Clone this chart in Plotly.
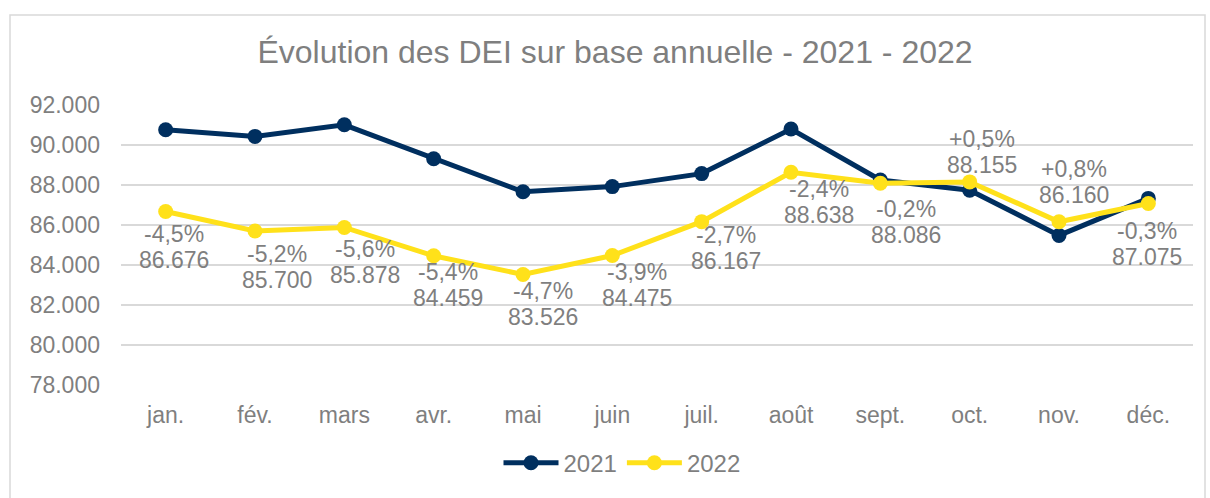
import plotly.graph_objects as go

months = ["jan.", "fév.", "mars", "avr.", "mai", "juin", "juil.", "août", "sept.", "oct.", "nov.", "déc."]
v2021 = [90760, 90430, 91010, 89310, 87660, 87920, 88570, 90800, 88250, 87740, 85480, 87330]
v2022 = [86676, 85700, 85878, 84459, 83526, 84475, 86167, 88638, 88086, 88155, 86160, 87075]
pct2022 = ["-4,5%", "-5,2%", "-5,6%", "-5,4%", "-4,7%", "-3,9%", "-2,7%", "-2,4%", "-0,2%", "+0,5%", "+0,8%", "-0,3%"]

# label placement offsets (px): dx, dy of first line below point (negative = above)
label_dx = [8, 22, 21, 14, 20, 25, 24, 28, 26, 12, 15, -1]
label_dy = [23, 23, 22, 16, 17, 16, 13, 17, 26, -43, -53, 27]
line_gap = 26

NAVY = "#002F5F"
YELLOW = "#FFE11A"
GRAY = "#7F7F7F"
FONT = "Liberation Sans, Arial, sans-serif"

fig = go.Figure()
fig.add_trace(go.Scatter(x=months, y=v2021, name="2021", mode="lines+markers",
                         line=dict(color=NAVY, width=5), marker=dict(size=15, color=NAVY)))
fig.add_trace(go.Scatter(x=months, y=v2022, name="2022", mode="lines+markers",
                         line=dict(color=YELLOW, width=5), marker=dict(size=15, color=YELLOW)))

def fmt(v):
    return f"{v:,}".replace(",", ".")

for i, m in enumerate(months):
    for k, txt in enumerate([pct2022[i], fmt(v2022[i])]):
        fig.add_annotation(x=m, y=v2022[i], text=txt, showarrow=False,
                           xanchor="center", yanchor="middle",
                           xshift=label_dx[i], yshift=-(label_dy[i] + k * line_gap),
                           font=dict(family=FONT, size=23, color=GRAY))

W, H = 1210, 498
L, R, T, B = 121, 17, 105, 110
pw, ph = W - L - R, H - T - B

def px(x):
    return (x - L) / pw

def py(y):
    return (H - B - y) / ph

fig.add_shape(type="rect", xref="paper", yref="paper",
              x0=px(10), x1=px(1205), y0=py(505), y1=py(14),
              line=dict(color="#D9D9D9", width=1.5), fillcolor="rgba(0,0,0,0)", layer="below")

fig.update_layout(
    width=W, height=H,
    margin=dict(l=L, r=R, t=T, b=B),
    paper_bgcolor="white", plot_bgcolor="white",
    separators=",.",
    font=dict(family=FONT, size=23, color=GRAY),
    title=dict(text="Évolution des DEI sur base annuelle - 2021 - 2022",
               xref="container", x=615 / W, xanchor="center",
               yref="container", y=1 - 52 / H, yanchor="middle",
               font=dict(family=FONT, size=32, color=GRAY)),
    showlegend=True,
    legend=dict(orientation="h", x=px(622), xanchor="center", y=py(467), yanchor="middle",
                font=dict(family=FONT, size=24, color=GRAY), itemwidth=55,
                bgcolor="rgba(0,0,0,0)"),
)
fig.update_xaxes(range=[-0.5, 11.5], showgrid=False, zeroline=False, showline=False, ticks="",
                 tickfont=dict(family=FONT, size=23, color=GRAY), ticklabelstandoff=14)
fig.update_yaxes(range=[78000, 92000], dtick=2000, tickformat=",d",
                 showgrid=True, gridcolor="#D9D9D9", gridwidth=1.5, zeroline=False,
                 showline=False, ticks="", tickfont=dict(family=FONT, size=23, color=GRAY),
                 ticklabelstandoff=20)

fig.write_html("out.html", config={"displayModeBar": False},
               post_script="document.body.style.margin='0px';document.body.style.overflow='hidden';")
